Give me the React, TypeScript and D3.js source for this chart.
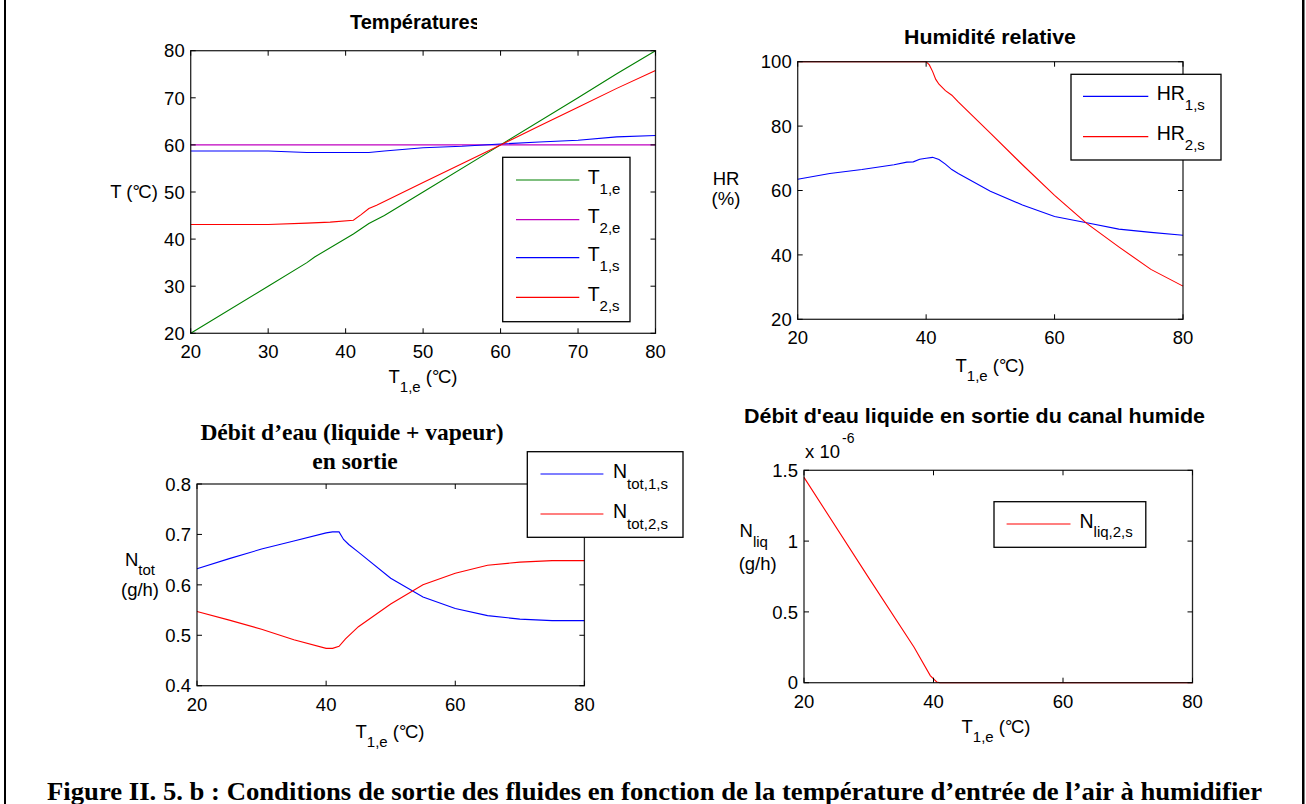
import React from 'react';
import * as d3 from 'd3';

// ---------- DATA ----------
// Températures
const t1eX = [20, 30, 35, 36, 41, 42, 43, 45, 50, 60, 70, 75, 80];
const t1eY = [20, 30, 35, 36.2, 41.1, 42.2, 43.3, 45, 50, 60, 70, 75.1, 80];
const t2eX = [20, 80];
const t2eY = [60, 60];
const t1sX = [20, 30, 35, 43, 45, 50, 55, 60, 65, 70, 75, 80];
const t1sY = [58.7, 58.7, 58.4, 58.4, 58.7, 59.4, 59.7, 60.2, 60.6, 61, 61.7, 62];
const t2sX = [20, 30, 35, 38, 41, 42, 43, 44, 50, 55, 60, 65, 70, 75, 80];
const t2sY = [43.1, 43.1, 43.4, 43.6, 44, 45.2, 46.5, 47.2, 52, 56, 60, 64, 68, 72, 75.8];

// Humidité relative
const hr1X = [20, 25, 30, 35, 37, 38, 39, 40, 41, 42, 43, 44, 45, 50, 55, 60, 65, 70, 75, 80];
const hr1Y = [63.5, 65.3, 66.5, 68, 68.8, 68.9, 69.7, 70, 70.3, 69.6, 68.2, 66.5, 65.3, 59.8, 55.5, 51.9, 50, 48, 47, 46.1];
const hr2X = [20, 40, 40.5, 41, 41.5, 42, 43, 44, 45, 50, 55, 60, 65, 70, 75, 80];
const hr2Y = [100, 100, 99, 97, 94.5, 93, 91, 89.6, 87.5, 77.8, 68, 58.5, 49.8, 42.5, 35.5, 30.3];

// Débit d'eau total
const ntot1X = [20, 25, 30, 35, 40, 41, 42, 42.7, 43.5, 45, 50, 55, 60, 65, 70, 75, 80];
const ntot1Y = [0.632, 0.652, 0.671, 0.687, 0.703, 0.705, 0.705, 0.69, 0.68, 0.665, 0.613, 0.576, 0.553, 0.539, 0.532, 0.529, 0.529];
const ntot2X = [20, 25, 30, 35, 40, 41, 42, 43, 45, 50, 55, 60, 65, 70, 75, 80];
const ntot2Y = [0.547, 0.53, 0.512, 0.491, 0.474, 0.474, 0.478, 0.493, 0.517, 0.562, 0.6, 0.623, 0.639, 0.645, 0.648, 0.648];

// Débit d'eau liquide (x 1e-6)
const nliqX = [20, 30, 37, 39.5, 40.5, 41, 60, 80];
const nliqY = [1.45, 0.74, 0.25, 0.05, 0.005, 0, 0, 0];

// Ticks
const ticksT_x = [20, 30, 40, 50, 60, 70, 80];
const ticksT_y = [20, 30, 40, 50, 60, 70, 80];
const ticks20 = [20, 40, 60, 80];
const ticksHR_y = [20, 40, 60, 80, 100];
const ticksN_y = [0.4, 0.5, 0.6, 0.7, 0.8];
const ticksL_y = [0, 0.5, 1, 1.5];

const F = '"Liberation Sans", Arial, Helvetica, sans-serif';
const FS = '"Liberation Serif", "Times New Roman", serif';

const GREEN = '#008000';
const MAGENTA = '#bf00bf';
const BLUE = '#0000ff';
const RED = '#ff0000';

type Series = { x: number[]; y: number[]; color: string };
type LegItem = { color: string; main: string; sub: string };
type Spec = {
  left: number; right: number; top: number; bottom: number;
  xDomain: [number, number]; yDomain: [number, number];
  xTicks: number[]; yTicks: number[]; yFmt: (v: number) => string;
  series: Series[];
  legend: {
    x0: number; x1: number; y0: number; y1: number;
    lx0: number; lx1: number; tx: number; rows: number[]; items: LegItem[];
    subDy: number;
  };
  yLabelClip?: number;
};

function Panel({ s, id }: { s: Spec; id: string }) {
  const x = d3.scaleLinear().domain(s.xDomain).range([s.left, s.right]);
  const y = d3.scaleLinear().domain(s.yDomain).range([s.bottom, s.top]);
  const tl = 5;
  const L = s.legend;
  return (
    <g>
      {s.yLabelClip !== undefined && (
        <clipPath id={`${id}-yc`}>
          <rect x={0} y={s.yLabelClip} width={1306} height={800} />
        </clipPath>
      )}
      {/* data lines */}
      {s.series.map((se, k) => {
        const pts: [number, number][] = se.x.map((v, i) => [x(v), y(se.y[i])]);
        const p = d3.line()(pts) || '';
        return <path key={k} d={p} fill="none" stroke={se.color} strokeWidth={1.1} />;
      })}
      {/* axes box */}
      <rect x={s.left} y={s.top} width={s.right - s.left} height={s.bottom - s.top}
        fill="none" stroke="#000" strokeWidth={1.3} strokeOpacity={0.85} />
      {s.xTicks.map((t) => (
        <g key={'xt' + t}>
          <line x1={x(t)} x2={x(t)} y1={s.bottom} y2={s.bottom - tl} stroke="#000" />
          <line x1={x(t)} x2={x(t)} y1={s.top} y2={s.top + tl} stroke="#000" />
          <text x={x(t)} y={s.bottom + 25} textAnchor="middle" fontFamily={F} fontSize={18.5}>{t}</text>
        </g>
      ))}
      {s.yTicks.map((t) => (
        <g key={'yt' + t}>
          <line x1={s.left} x2={s.left + tl} y1={y(t)} y2={y(t)} stroke="#000" />
          <line x1={s.right} x2={s.right - tl} y1={y(t)} y2={y(t)} stroke="#000" />
          <text x={s.left - 6} y={y(t) + 6.7} textAnchor="end" fontFamily={F} fontSize={18.5}
            clipPath={s.yLabelClip !== undefined && t === s.yTicks[s.yTicks.length - 1] ? `url(#${id}-yc)` : undefined}>
            {s.yFmt(t)}
          </text>
        </g>
      ))}
      {/* legend */}
      <rect x={L.x0} y={L.y0} width={L.x1 - L.x0} height={L.y1 - L.y0} fill="#fff" stroke="#000" strokeWidth={1.3} />
      {L.items.map((it, k) => (
        <g key={'lg' + k}>
          <line x1={L.lx0} x2={L.lx1} y1={L.rows[k]} y2={L.rows[k]} stroke={it.color} strokeWidth={1.2} />
          <text x={L.tx} y={L.rows[k] + 3.5} fontFamily={F} fontSize={19.5}>
            {it.main}
            <tspan fontSize={15} dy={L.subDy}>{it.sub}</tspan>
          </text>
        </g>
      ))}
    </g>
  );
}

const fmtInt = (v: number) => String(v);
const fmt1 = (v: number) => v.toFixed(1);
const fmtL = (v: number) => String(v);

const specT: Spec = {
  left: 190.7, right: 655.5, top: 50.7, bottom: 333.3,
  xDomain: [20, 80], yDomain: [20, 80], xTicks: ticksT_x, yTicks: ticksT_y, yFmt: fmtInt,
  series: [
    { x: t1eX, y: t1eY, color: GREEN },
    { x: t2eX, y: t2eY, color: MAGENTA },
    { x: t1sX, y: t1sY, color: BLUE },
    { x: t2sX, y: t2sY, color: RED },
  ],
  legend: {
    x0: 502.7, x1: 630, y0: 157.3, y1: 321.7, lx0: 516, lx1: 579.3, tx: 587.7,
    rows: [180, 219.7, 257.7, 297.3], subDy: 10,
    items: [
      { color: GREEN, main: 'T', sub: '1,e' },
      { color: MAGENTA, main: 'T', sub: '2,e' },
      { color: BLUE, main: 'T', sub: '1,s' },
      { color: RED, main: 'T', sub: '2,s' },
    ],
  },
};

const specHR: Spec = {
  left: 797.7, right: 1183, top: 61.7, bottom: 319.3,
  xDomain: [20, 80], yDomain: [20, 100], xTicks: ticks20, yTicks: ticksHR_y, yFmt: fmtInt,
  series: [
    { x: hr1X, y: hr1Y, color: BLUE },
    { x: hr2X, y: hr2Y, color: RED },
  ],
  legend: {
    x0: 1071, x1: 1221, y0: 74.3, y1: 160, lx0: 1083, lx1: 1148.3, tx: 1156.7,
    rows: [96.3, 136.7], subDy: 10,
    items: [
      { color: BLUE, main: 'HR', sub: '1,s' },
      { color: RED, main: 'HR', sub: '2,s' },
    ],
  },
};

const specN: Spec = {
  left: 197, right: 584.4, top: 484, bottom: 685.7,
  xDomain: [20, 80], yDomain: [0.4, 0.8], xTicks: ticks20, yTicks: ticksN_y, yFmt: fmt1,
  series: [
    { x: ntot1X, y: ntot1Y, color: BLUE },
    { x: ntot2X, y: ntot2Y, color: RED },
  ],
  legend: {
    x0: 527.3, x1: 683, y0: 451.7, y1: 537.3, lx0: 540.5, lx1: 603.4, tx: 613,
    rows: [474, 514], subDy: 11,
    items: [
      { color: BLUE, main: 'N', sub: 'tot,1,s' },
      { color: RED, main: 'N', sub: 'tot,2,s' },
    ],
  },
  yLabelClip: 475,
};

const specL: Spec = {
  left: 804, right: 1192.5, top: 470.3, bottom: 682.7,
  xDomain: [20, 80], yDomain: [0, 1.5], xTicks: ticks20, yTicks: ticksL_y, yFmt: fmtL,
  series: [{ x: nliqX, y: nliqY, color: RED }],
  legend: {
    x0: 994, x1: 1145.8, y0: 501.7, y1: 547.3, lx0: 1006.6, lx1: 1070.5, tx: 1079.5,
    rows: [524], subDy: 9,
    items: [{ color: RED, main: 'N', sub: 'liq,2,s' }],
  },
};

function XLabel({ cx, y }: { cx: number; y: number }) {
  return (
    <text x={cx} y={y} textAnchor="middle" fontFamily={F} fontSize={18.5}>
      T<tspan fontSize={15} dy={9}>1,e</tspan><tspan dy={-9}> (°</tspan><tspan dx={-1.5}>C)</tspan>
    </text>
  );
}

export default function App() {
  return (
    <svg width={1306} height={804} style={{ position: 'absolute', left: 0, top: 0, background: '#fff' }}>
      <rect x={0} y={0} width={1306} height={804} fill="#fff" />
      {/* outer frame */}
      <rect x={4} y={0} width={2} height={804} fill="#000" />
      <rect x={1302} y={0} width={2.5} height={804} fill="#000" />

      <defs>
        <clipPath id="titleClip">
          <rect x={300} y={0} width={177} height={45} />
        </clipPath>
      </defs>

      {/* Panel 1 */}
      <text x={350} y={29.3} fontFamily={F} fontWeight="bold" fontSize={20} clipPath="url(#titleClip)">Températures</text>
      <Panel s={specT} id="p1" />
      <text x={134} y={198} textAnchor="middle" fontFamily={F} fontSize={18.5}>T (°<tspan dx={-1.5}>C)</tspan></text>
      <XLabel cx={423} y={383.3} />

      {/* Panel 2 */}
      <text x={990} y={44.3} textAnchor="middle" fontFamily={F} fontWeight="bold" fontSize={20} textLength={172} lengthAdjust="spacingAndGlyphs">Humidité relative</text>
      <Panel s={specHR} id="p2" />
      <text x={726} y={185} textAnchor="middle" fontFamily={F} fontSize={18.5}>HR</text>
      <text x={726} y={205} textAnchor="middle" fontFamily={F} fontSize={18.5}>(%)</text>
      <XLabel cx={990} y={371.7} />

      {/* Panel 3 */}
      <text x={352} y={440} textAnchor="middle" fontFamily={FS} fontWeight="bold" fontSize={23.5}>Débit d’eau (liquide + vapeur)</text>
      <text x={355} y={469} textAnchor="middle" fontFamily={FS} fontWeight="bold" fontSize={23.5}>en sortie</text>
      <Panel s={specN} id="p3" />
      <text x={140} y={566} textAnchor="middle" fontFamily={F} fontSize={18.5}>N<tspan fontSize={15} dy={9}>tot</tspan></text>
      <text x={140} y={596} textAnchor="middle" fontFamily={F} fontSize={18.5}>(g/h)</text>
      <XLabel cx={390} y={738.3} />

      {/* Panel 4 */}
      <text x={974.5} y={423.3} textAnchor="middle" fontFamily={F} fontWeight="bold" fontSize={20} textLength={461} lengthAdjust="spacingAndGlyphs">Débit d'eau liquide en sortie du canal humide</text>
      <text x={805} y={458.3} fontFamily={F} fontSize={18.5}>x 10<tspan fontSize={14} dy={-15} dx={2}>-6</tspan></text>
      <Panel s={specL} id="p4" />
      <text x={739.5} y={536.7} fontFamily={F} fontSize={18.5}>N<tspan fontSize={15} dy={10}>liq</tspan></text>
      <text x={757.7} y={570} textAnchor="middle" fontFamily={F} fontSize={18.5}>(g/h)</text>
      <XLabel cx={996} y={733.3} />

      {/* Caption */}
      <text x={654.5} y={800} textAnchor="middle" fontFamily={FS} fontWeight="bold" fontSize={25} textLength={1215} lengthAdjust="spacingAndGlyphs">
        Figure II. 5. b : Conditions de sortie des fluides en fonction de la température d’entrée de l’air à humidifier
      </text>
    </svg>
  );
}
